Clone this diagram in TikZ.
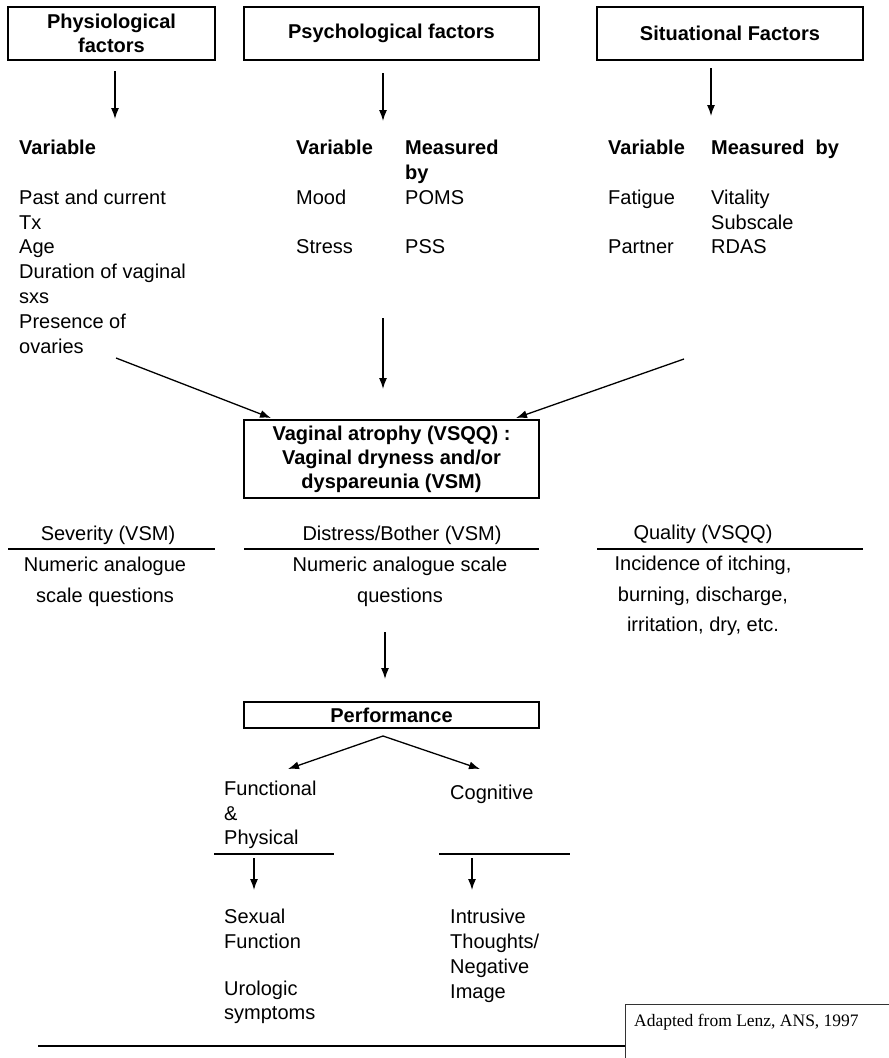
\documentclass[tikz,border=0pt]{standalone}
\usepackage{fontspec}
\setmainfont{Liberation Sans}
\newfontfamily\timesfont{Liberation Serif}
\usetikzlibrary{arrows.meta}
\begin{document}
\begin{tikzpicture}[x=1pt,y=-1pt,
  t/.style={font=\fontsize{20}{24.8}\selectfont, inner sep=0pt, anchor=base west},
  tb/.style={font=\fontsize{20}{24.8}\selectfont\bfseries, inner sep=0pt, anchor=base west},
  tc/.style={font=\fontsize{20}{24.8}\selectfont, inner sep=0pt, anchor=base},
  bx/.style={draw, line width=2.3pt, inner sep=0pt, align=center,
             font=\fontsize{20}{24.5}\selectfont\bfseries},
  hl/.style={line width=2pt},
  arr/.style={line width=1.3pt, -{Latex[length=11pt,width=8pt]}},
]
\useasboundingbox (0,0) rectangle (889,1058);

% top boxes
\node[bx, minimum width=207pt, minimum height=53pt] (phys) at (111.5,33.5) {Physiological\\factors};
\node[bx, minimum width=295pt, minimum height=53pt] (psych) at (391.5,33.5) {Psychological factors};
\node[bx, minimum width=266pt, minimum height=53pt] (sit) at (730,33.5) {Situational Factors};

% top arrows
\coordinate (a1s) at (115,71);  \coordinate (a1e) at (115,119);
\coordinate (a2s) at (383,73);  \coordinate (a2e) at (383,121);
\coordinate (a3s) at (711,68);  \coordinate (a3e) at (711,116);
\draw[arr] (a1s) -- (a1e);
\draw[arr] (a2s) -- (a2e);
\draw[arr] (a3s) -- (a3e);

% column 1
\node[tb] (v1) at (19,154.5) {Variable};
\node[t] (p1) at (19,204.3) {Past and current};
\node[t] (p2) at (19,229.1) {Tx};
\node[t] (p3) at (19,253.9) {Age};
\node[t] (p4) at (19,278.7) {Duration of vaginal};
\node[t] (p5) at (19,303.5) {sxs};
\node[t] (p6) at (19,328.3) {Presence of};
\node[t] (p7) at (19,353.1) {ovaries};

% column 2
\node[tb] (v2) at (296,154.5) {Variable};
\node[tb] (m2) at (405,154.5) {Measured};
\node[tb] (m2b) at (405,179.3) {by};
\node[t] (mood) at (296,204.3) {Mood};
\node[t] (poms) at (405,204.3) {POMS};
\node[t] (stress) at (296,253.9) {Stress};
\node[t] (pss) at (405,253.9) {PSS};

% column 3
\node[tb] (v3) at (608,154.5) {Variable};
\node[tb] (m3) at (711,154.5) {Measured\ \ by};
\node[t] (fat) at (608,204.3) {Fatigue};
\node[t] (vit) at (711,204.3) {Vitality};
\node[t] (sub) at (711,229.1) {Subscale};
\node[t] (part) at (608,253.9) {Partner};
\node[t] (rdas) at (711,253.9) {RDAS};

% central box
\node[bx, minimum width=295pt, minimum height=78pt, font=\fontsize{20}{24}\selectfont\bfseries] (vsqq) at (391.5,459)
  {Vaginal atrophy (VSQQ) :\\Vaginal dryness and/or\\dyspareunia (VSM)};

% arrows into central box
\coordinate (d1s) at (116,358); \coordinate (d1e) at (271,418);
\coordinate (d2s) at (383,318); \coordinate (d2e) at (383,389);
\coordinate (d3s) at (684,359); \coordinate (d3e) at (516,418);
\draw[arr] (d1s) -- (d1e);
\draw[arr] (d2s) -- (d2e);
\draw[arr] (d3s) -- (d3e);

% measure headers
\node[tc] (sev) at (108,540) {Severity (VSM)};
\node[tc] (dis) at (402,540) {Distress/Bother (VSM)};
\node[tc] (qual) at (703,539) {Quality (VSQQ)};
\coordinate (l1a) at (8,549);   \coordinate (l1b) at (215,549);
\coordinate (l2a) at (244,549); \coordinate (l2b) at (539,549);
\coordinate (l3a) at (597,549); \coordinate (l3b) at (863,549);
\draw[hl] (l1a) -- (l1b);
\draw[hl] (l2a) -- (l2b);
\draw[hl] (l3a) -- (l3b);

\node[tc] (s1) at (105,571.5) {Numeric analogue};
\node[tc] (s2) at (105,602.5) {scale questions};
\node[tc] (d1) at (400,571.5) {Numeric analogue scale};
\node[tc] (d2) at (400,602.5) {questions};
\node[tc] (q1) at (703,570) {Incidence of itching,};
\node[tc] (q2) at (703,601) {burning, discharge,};
\node[tc] (q3) at (703,631) {irritation, dry, etc.};

% arrow to performance
\coordinate (e1s) at (385,632); \coordinate (e1e) at (385,679);
\draw[arr] (e1s) -- (e1e);

\node[bx, minimum width=295pt, minimum height=26pt] (perf) at (391.5,715) {Performance};

\coordinate (apex) at (383,736);
\coordinate (fe) at (288,769);
\coordinate (ce) at (480,769);
\draw[arr] (apex) -- (fe);
\draw[arr] (apex) -- (ce);

\node[t] (f1) at (224,795.5) {Functional};
\node[t] (f2) at (224,820) {\&};
\node[t] (f3) at (224,844.5) {Physical};
\node[t] (cog) at (450,799.5) {Cognitive};

\coordinate (m1a) at (214,854); \coordinate (m1b) at (334,854);
\coordinate (m2a) at (439,854); \coordinate (m2c) at (570,854);
\draw[hl] (m1a) -- (m1b);
\draw[hl] (m2a) -- (m2c);

\coordinate (g1s) at (254,858); \coordinate (g1e) at (254,890);
\coordinate (g2s) at (472,858); \coordinate (g2e) at (472,890);
\draw[arr] (g1s) -- (g1e);
\draw[arr] (g2s) -- (g2e);

\node[t] (sx1) at (224,923.5) {Sexual};
\node[t] (sx2) at (224,948.5) {Function};
\node[t] (u1) at (224,995.5) {Urologic};
\node[t] (u2) at (224,1019.5) {symptoms};
\node[t] (i1) at (450,923.5) {Intrusive};
\node[t] (i2) at (450,948.5) {Thoughts/};
\node[t] (i3) at (450,973.5) {Negative};
\node[t] (i4) at (450,998.5) {Image};

% source box
\coordinate (sb1) at (625,1004); \coordinate (sb2) at (905,1075);
\draw[line width=0.8pt, black!80] (sb1) rectangle (sb2);
\node[inner sep=0pt, anchor=base west, font=\timesfont\fontsize{17.5}{20}\selectfont] (src) at (634,1026) {Adapted from Lenz, ANS, 1997};

% bottom rule
\coordinate (br1) at (38,1046); \coordinate (br2) at (625,1046);
\draw[hl] (br1) -- (br2);
\end{tikzpicture}
\end{document}
